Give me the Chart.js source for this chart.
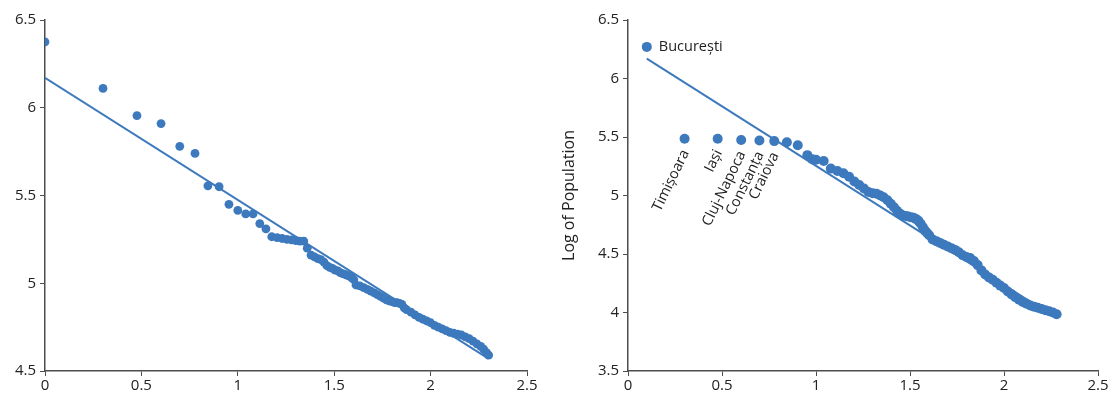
<!DOCTYPE html>
<html>
<head>
<meta charset="utf-8">
<script src="https://cdn.jsdelivr.net/npm/chart.js@4/dist/chart.umd.min.js"></script>
<style>
  body { margin: 0; background: #fff; }
  #wrap { position: relative; width: 1110px; height: 396px; }
  #leftChart { position: absolute; left: 0; top: 0; }
  #rightChart { position: absolute; left: 560px; top: 0; }
</style>
</head>
<body>
<div id="wrap">
  <canvas id="leftChart" width="560" height="396"></canvas>
  <canvas id="rightChart" width="550" height="396"></canvas>
</div>
<script>
// Left panel: log rank vs log population
const leftX = [0, 0.301, 0.477, 0.602, 0.699, 0.778, 0.845, 0.903, 0.954, 1.0, 1.041, 1.079, 1.114, 1.146, 1.176,
  1.204, 1.23, 1.255, 1.279, 1.301, 1.322, 1.342, 1.36, 1.38, 1.398, 1.415, 1.431, 1.447, 1.462, 1.477, 1.491,
  1.505, 1.519, 1.531, 1.544, 1.556, 1.568, 1.58, 1.591, 1.602, 1.613, 1.633, 1.653, 1.672, 1.69, 1.708, 1.724,
  1.74, 1.756, 1.771, 1.785, 1.799, 1.813, 1.826, 1.839, 1.851, 1.863, 1.875, 1.898, 1.919, 1.94, 1.96, 1.98,
  2.0, 2.02, 2.04, 2.06, 2.08, 2.1, 2.12, 2.14, 2.16, 2.18, 2.2, 2.22, 2.24, 2.26, 2.275, 2.29, 2.301];
const leftY = [6.375, 6.11, 5.955, 5.91, 5.78, 5.74, 5.555, 5.55, 5.45, 5.415, 5.395, 5.395, 5.34, 5.31, 5.265,
  5.26, 5.255, 5.25, 5.247, 5.243, 5.24, 5.24, 5.2, 5.16, 5.15, 5.14, 5.135, 5.12, 5.1, 5.09, 5.085,
  5.075, 5.07, 5.06, 5.055, 5.05, 5.045, 5.04, 5.03, 5.02, 4.99, 4.985, 4.975, 4.965, 4.955, 4.945, 4.935,
  4.925, 4.915, 4.905, 4.9, 4.895, 4.89, 4.89, 4.885, 4.88, 4.86, 4.85, 4.835, 4.82, 4.805, 4.795, 4.785,
  4.775, 4.76, 4.75, 4.74, 4.73, 4.72, 4.715, 4.71, 4.705, 4.695, 4.685, 4.67, 4.655, 4.64, 4.625, 4.605, 4.59];
const leftTrendX = [0, 2.3];
const leftTrendY = [6.17, 4.57];

// Right panel
const rightX = [0.1, 0.301, 0.477, 0.602, 0.699, 0.778, 0.845, 0.903, 0.954, 0.98, 1.0, 1.041, 1.079, 1.114,
  1.146, 1.176, 1.204, 1.23, 1.255, 1.279, 1.301, 1.322, 1.342, 1.36, 1.38, 1.398, 1.415, 1.431, 1.447, 1.462,
  1.477, 1.491, 1.505, 1.519, 1.531, 1.544, 1.556, 1.568, 1.58, 1.591, 1.602, 1.62, 1.64, 1.66, 1.68, 1.7,
  1.72, 1.74, 1.76, 1.78, 1.8, 1.82, 1.84, 1.86, 1.88, 1.9, 1.92, 1.94, 1.96, 1.98, 2.0, 2.02, 2.04, 2.06,
  2.08, 2.1, 2.12, 2.14, 2.16, 2.18, 2.2, 2.22, 2.24, 2.26, 2.28];
const rightY = [6.27, 5.485, 5.485, 5.475, 5.47, 5.465, 5.455, 5.43, 5.345, 5.31, 5.305, 5.295, 5.23, 5.21,
  5.19, 5.16, 5.12, 5.09, 5.06, 5.03, 5.02, 5.015, 5.0, 4.985, 4.96, 4.93, 4.9, 4.87, 4.845, 4.83,
  4.825, 4.82, 4.815, 4.81, 4.8, 4.785, 4.76, 4.73, 4.7, 4.68, 4.66, 4.625, 4.61, 4.595, 4.58, 4.565,
  4.55, 4.535, 4.515, 4.49, 4.475, 4.465, 4.44, 4.405, 4.36, 4.325, 4.3, 4.28, 4.255, 4.23, 4.21, 4.18,
  4.155, 4.13, 4.11, 4.09, 4.075, 4.06, 4.05, 4.04, 4.03, 4.02, 4.01, 4.0, 3.985];
const rightTrendX = [0.1, 2.28];
const rightTrendY = [6.17, 3.95];

// city labels: index into the right series
const cityNames = ['București', 'Timișoara', 'Iași', 'Cluj-Napoca', 'Constanța', 'Craiova'];
const cityIndex = [0, 1, 2, 3, 4, 5];

const xTicks = [0, 0.5, 1, 1.5, 2, 2.5];

const blue = '#3d79bd';
const axisColor = '#4d4d4d';
const family = '"Open Sans", Lato, sans-serif';
const font = { family: family, size: 15 };

function pts(xs, ys) {
  return xs.map((x, i) => ({ x: x, y: ys[i] }));
}

function scalesFor(yMin, yMax, yWidth, title) {
  return {
    x: {
      type: 'linear', min: 0, max: 2.5,
      afterBuildTicks: s => { s.ticks = xTicks.map(v => ({ value: v })); },
      grid: { drawOnChartArea: false, drawTicks: true, tickLength: 5, color: axisColor },
      border: { color: axisColor, width: 1.5 },
      ticks: { color: '#222', font: font, padding: 1, maxRotation: 0, callback: v => String(v) },
      afterFit: s => { s.height = 25; }
    },
    y: {
      type: 'linear', min: yMin, max: yMax,
      ticks: { stepSize: 0.5, color: '#222', font: font, padding: 4, callback: v => String(v) },
      grid: { drawOnChartArea: false, drawTicks: true, tickLength: 5, color: axisColor },
      border: { color: axisColor, width: 1.5 },
      title: title ? { display: true, text: title, color: '#222', font: { family: family, size: 16 }, padding: 0 } : { display: false },
      afterFit: s => { s.width = yWidth; }
    }
  };
}

// draws the city names next to their points
const cityLabels = {
  id: 'cityLabels',
  afterDatasetsDraw(chart) {
    const ctx = chart.ctx;
    const xs = chart.scales.x, ys = chart.scales.y;
    ctx.save();
    ctx.fillStyle = '#222';
    ctx.font = '14.5px ' + family;
    cityIndex.forEach((idx, k) => {
      const px = xs.getPixelForValue(rightX[idx]);
      const py = ys.getPixelForValue(rightY[idx]);
      if (k === 0) {
        ctx.textAlign = 'left';
        ctx.textBaseline = 'middle';
        ctx.fillText(cityNames[k], px + 12, py);
      } else {
        ctx.save();
        ctx.translate(px + 1, py + 12);
        ctx.rotate(-64 * Math.PI / 180);
        ctx.textAlign = 'right';
        ctx.textBaseline = 'middle';
        ctx.fillText(cityNames[k], 0, 0);
        ctx.restore();
      }
    });
    ctx.restore();
  }
};

new Chart(document.getElementById('leftChart'), {
  type: 'scatter',
  data: {
    datasets: [
      { data: pts(leftTrendX, leftTrendY), showLine: true, borderColor: blue, borderWidth: 2, pointRadius: 0 },
      { data: pts(leftX, leftY), backgroundColor: blue, borderColor: blue, pointRadius: 4.4, borderWidth: 0 }
    ]
  },
  options: {
    responsive: false,
    animation: false,
    layout: { padding: { top: 20, right: 33, left: 0, bottom: 0 } },
    plugins: { legend: { display: false }, tooltip: { enabled: false } },
    scales: scalesFor(4.5, 6.5, 45, null)
  }
});

new Chart(document.getElementById('rightChart'), {
  type: 'scatter',
  data: {
    datasets: [
      { data: pts(rightTrendX, rightTrendY), showLine: true, borderColor: blue, borderWidth: 2, pointRadius: 0 },
      { data: pts(rightX, rightY), backgroundColor: blue, borderColor: blue, pointRadius: 5, borderWidth: 0 }
    ]
  },
  options: {
    responsive: false,
    animation: false,
    layout: { padding: { top: 20, right: 12, left: 0, bottom: 0 } },
    plugins: { legend: { display: false }, tooltip: { enabled: false } },
    scales: scalesFor(3.5, 6.5, 68, 'Log of Population')
  },
  plugins: [cityLabels]
});
</script>
</body>
</html>
